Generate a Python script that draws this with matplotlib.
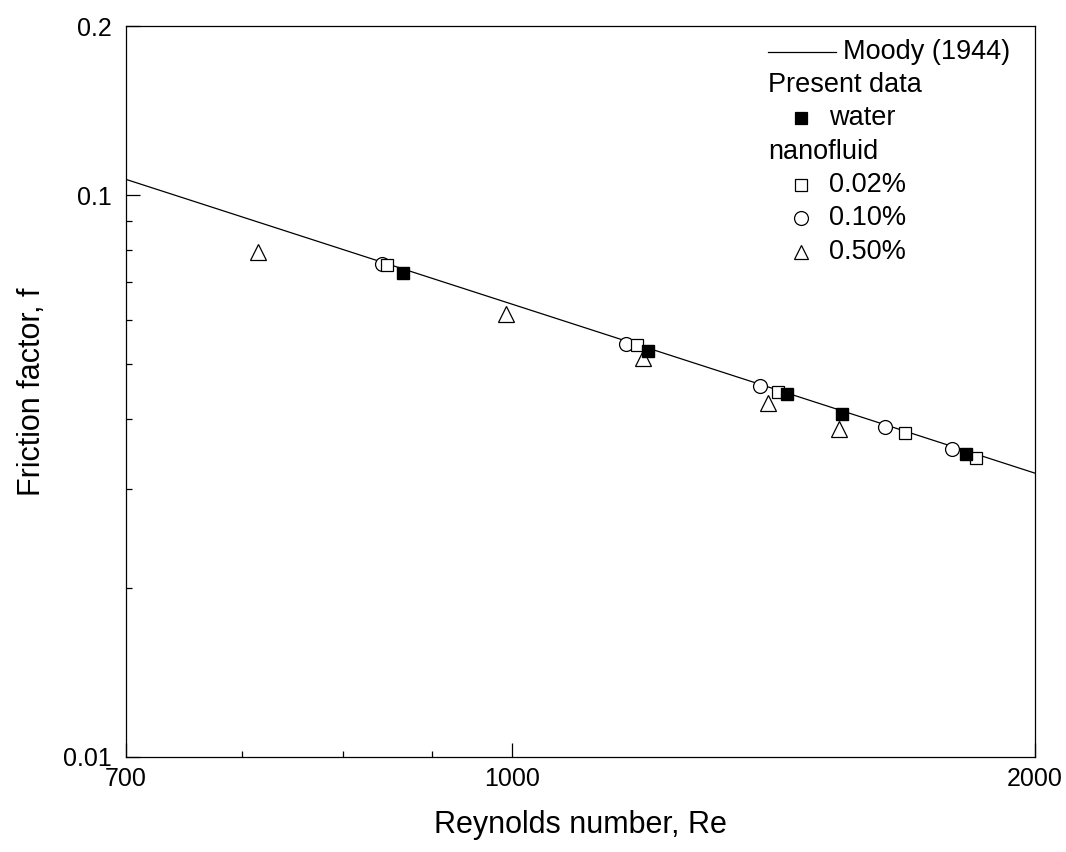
import matplotlib.pyplot as plt
import matplotlib.ticker as ticker
import numpy as np

plt.rcParams['font.family'] = ['Liberation Sans', 'DejaVu Sans']

# Moody (1944) laminar line, f = 64/Re
moody_re = [600, 2000]

# Present data
water_re = [866, 1198, 1440, 1549, 1826]
water_f = [0.0727, 0.0529, 0.0442, 0.0407, 0.0346]

nf002_re = [848, 1181, 1423, 1684, 1850]
nf002_f = [0.0751, 0.0540, 0.0446, 0.0377, 0.0340]

nf010_re = [842, 1164, 1390, 1640, 1792]
nf010_f = [0.0755, 0.0544, 0.0457, 0.0386, 0.0353]

nf050_re = [715, 993, 1190, 1405, 1543]
nf050_f = [0.0793, 0.0615, 0.0512, 0.0426, 0.0383]

x_ticks = [600, 1000, 2000]
x_ticklabels = ['700', '1000', '2000']
y_ticks = [0.01, 0.1, 0.2]
y_ticklabels = ['0.01', '0.1', '0.2']

fig = plt.figure(figsize=(10.66, 8.52), dpi=100)
ax = fig.add_axes([126 / 1066, 1 - 757 / 852, (1035 - 126) / 1066, (757 - 26) / 852])

re_line = np.geomspace(moody_re[0], moody_re[1], 50)
ax.plot(re_line, 64 / re_line, color='black', lw=0.9, zorder=2)

ax.plot(nf050_re, nf050_f, ls='none', marker='^', ms=12, mfc='white', mec='black', mew=0.9, zorder=3)
ax.plot(nf010_re, nf010_f, ls='none', marker='o', ms=10, mfc='white', mec='black', mew=0.9, zorder=3)
ax.plot(nf002_re, nf002_f, ls='none', marker='s', ms=9, mfc='white', mec='black', mew=0.9, zorder=4)
ax.plot(water_re, water_f, ls='none', marker='s', ms=9, mfc='black', mec='black', zorder=4)

ax.set_xscale('log')
ax.set_yscale('log')
ax.set_xlim(600, 2000)
ax.set_ylim(0.01, 0.2)

ax.xaxis.set_major_locator(ticker.FixedLocator(x_ticks))
ax.xaxis.set_major_formatter(ticker.FixedFormatter(x_ticklabels))
ax.xaxis.set_minor_locator(ticker.FixedLocator([700, 800, 900]))
ax.xaxis.set_minor_formatter(ticker.NullFormatter())
ax.yaxis.set_major_locator(ticker.FixedLocator(y_ticks))
ax.yaxis.set_major_formatter(ticker.FixedFormatter(y_ticklabels))
ax.yaxis.set_minor_locator(ticker.FixedLocator([0.02, 0.03, 0.04, 0.05, 0.06, 0.07, 0.08, 0.09]))
ax.yaxis.set_minor_formatter(ticker.NullFormatter())

ax.tick_params(which='both', direction='in', top=False, right=False, labelsize=18, width=0.9)
ax.tick_params(which='major', length=10)
ax.tick_params(which='minor', length=4.5)
ax.tick_params(axis='x', which='major', pad=7)
ax.tick_params(axis='y', which='major', pad=10)
for s in ax.spines.values():
    s.set_linewidth(0.9)

ax.set_xlabel('Reynolds number, Re', fontsize=22, labelpad=14)
ax.set_ylabel('Friction factor, f', fontsize=22, labelpad=12)

# hand-made legend, in axes coordinates
def ax_xy(px, py):
    return (px - 126) / (1035 - 126), (757 - py) / (757 - 26)

fs = 19.5
x0, y0 = ax_xy(768, 52)
x1, _ = ax_xy(836, 52)
ax.plot([x0, x1], [y0, y0], color='black', lw=0.9, transform=ax.transAxes)
ax.text(ax_xy(843, 52)[0], y0, 'Moody (1944)', transform=ax.transAxes, fontsize=fs, va='center')
ax.text(x0, ax_xy(768, 85)[1], 'Present data', transform=ax.transAxes, fontsize=fs, va='center')
ax.text(x0, ax_xy(768, 152)[1], 'nanofluid', transform=ax.transAxes, fontsize=fs, va='center')

entries = [(118, 's', 'black', 'water'),
           (185, 's', 'white', '0.02%'),
           (218, 'o', 'white', '0.10%'),
           (252, '^', 'white', '0.50%')]
for py, mk, fc, lab in entries:
    mx, my = ax_xy(801, py)
    ax.plot([mx], [my], ls='none', marker=mk, ms=8 if mk == 's' else 10, mfc=fc, mec='black', mew=0.9,
            transform=ax.transAxes)
    ax.text(ax_xy(829, py)[0], my, lab, transform=ax.transAxes, fontsize=fs, va='center')

fig.savefig('out.png', dpi=100)
